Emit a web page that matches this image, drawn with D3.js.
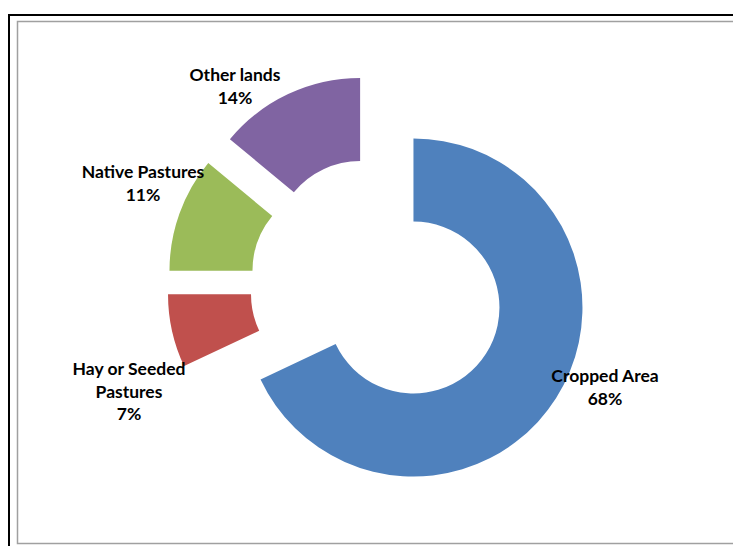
<!DOCTYPE html>
<html>
<head>
<meta charset="utf-8">
<script src="https://cdn.jsdelivr.net/npm/d3@7"></script>
<style>
  html, body { margin: 0; padding: 0; background: #fff; }
  svg { display: block; }
  .lbl { font-family: Lato, "Open Sans", sans-serif; font-weight: bold; font-size: 17.5px; fill: #000; }
</style>
</head>
<body>
<svg id="chart" width="733" height="546"></svg>
<script>
// Land use shares (percent)
const categories = ["Cropped Area", "Hay or Seeded Pastures", "Native Pastures", "Other lands"];
const shares = [68, 7, 11, 14];
const colors = ["#4F81BD", "#C0504D", "#9BBB59", "#8064A2"];
// Label text lines for each slice (the share line is appended)
const labelLines = [["Cropped Area"], ["Hay or Seeded", "Pastures"], ["Native Pastures"], ["Other lands"]];

const W = 733, H = 546;
const svg = d3.select("#chart");

// Frames
svg.append("rect")
  .attr("x", 9).attr("y", 15).attr("width", 760).attr("height", 560)
  .attr("fill", "none").attr("stroke", "#000").attr("stroke-width", 2);
svg.append("rect")
  .attr("x", 17.5).attr("y", 21.5).attr("width", 760).attr("height", 522)
  .attr("fill", "#fff").attr("stroke", "#a0a0a0").attr("stroke-width", 1.5);

// Donut geometry
const center = { x: 378, y: 285 };
const outerR = 169, innerR = 86, explode = 42;

const pie = d3.pie().sort(null).value(d => d);
const arcs = pie(shares);
const arc = d3.arc().innerRadius(innerR).outerRadius(outerR);

const g = svg.append("g").attr("transform", `translate(${center.x},${center.y})`);

g.selectAll("path.slice")
  .data(arcs)
  .join("path")
  .attr("class", "slice")
  .attr("fill", (d, i) => colors[i])
  .attr("transform", d => {
    const a = (d.startAngle + d.endAngle) / 2;
    return `translate(${explode * Math.sin(a)},${-explode * Math.cos(a)})`;
  })
  .attr("d", arc);

// Data labels, anchored relative to the donut centre
const labelAnchor = [
  { dx: 227, dy: 97 },
  { dx: -249, dy: 90 },
  { dx: -235, dy: -107 },
  { dx: -143, dy: -204 }
];
const fmt = d3.format(".0f");
const lineH = 22.5;

arcs.forEach((d, i) => {
  const lines = labelLines[i].concat([fmt(shares[i]) + "%"]);
  const t = svg.append("text")
    .attr("class", "lbl")
    .attr("text-anchor", "middle")
    .attr("x", center.x + labelAnchor[i].dx)
    .attr("y", center.y + labelAnchor[i].dy);
  lines.forEach((ln, k) => {
    t.append("tspan")
      .attr("x", center.x + labelAnchor[i].dx)
      .attr("dy", k === 0 ? 0 : lineH)
      .text(ln);
  });
});
</script>
</body>
</html>
